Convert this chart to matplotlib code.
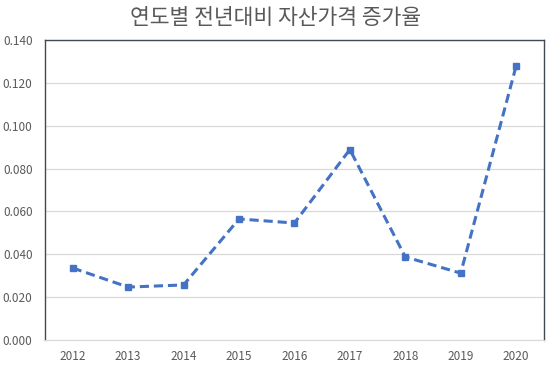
import matplotlib
matplotlib.use('Agg')
import matplotlib.pyplot as plt

years = ['2012', '2013', '2014', '2015', '2016', '2017', '2018', '2019', '2020']
rates = [0.0336, 0.0247, 0.0257, 0.0565, 0.0546, 0.0889, 0.0388, 0.0312, 0.1279]
yticks = [0.0, 0.02, 0.04, 0.06, 0.08, 0.10, 0.12, 0.14]

plt.rcParams['font.family'] = ['Noto Sans CJK KR', 'DejaVu Sans']

fig = plt.figure(figsize=(5.51, 3.68), dpi=100)
ax = fig.add_axes([0.0817, 0.0761, 0.9053, 0.815])

x = range(len(years))
ax.plot(x, rates, color='#4472C4', linestyle=(0, (3, 1.6)), linewidth=2.2,
        marker='s', markersize=4.5, zorder=3)

ax.set_xlim(-0.5, len(years) - 0.5)
ax.set_ylim(0, 0.14)
ax.set_xticks(list(x))
ax.set_xticklabels(years)
ax.set_yticks(yticks)
ax.set_yticklabels([f'{v:.3f}' for v in yticks])
ax.grid(axis='y', color='#D9D9D9', linewidth=0.9)
ax.set_axisbelow(True)
ax.tick_params(length=0, labelsize=8.5, colors='#595959', pad=7)
ax.tick_params(axis='y', pad=9)

for side in ['left', 'top', 'right']:
    ax.spines[side].set_color('#3F4A55')
    ax.spines[side].set_linewidth(1.0)
ax.spines['bottom'].set_color('#D9D9D9')

fig.text(0.5, 0.952, '연도별 전년대비 자산가격 증가율', ha='center', va='center',
         fontsize=15.5, color='#595959', fontweight='light')

fig.savefig('out.png', dpi=100)
